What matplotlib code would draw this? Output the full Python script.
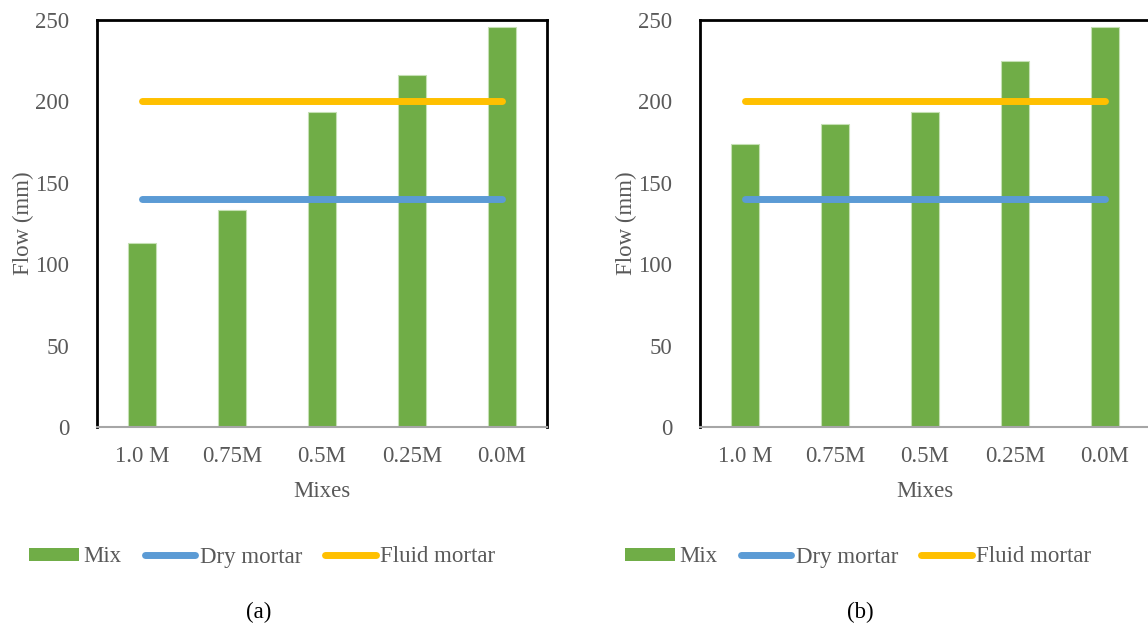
import numpy as np
import matplotlib
matplotlib.use("Agg")
import matplotlib.pyplot as plt
from matplotlib.lines import Line2D
from matplotlib.patches import Patch

plt.rcParams["font.family"] = ["Liberation Serif", "DejaVu Serif"]

# Data
mixes = ["1.0 M", "0.75M", "0.5M", "0.25M", "0.0M"]
flow_a = [113, 133.5, 193.5, 216, 246]
flow_b = [174, 186, 193.5, 225, 246]
dry_mortar = 140
fluid_mortar = 200
panel_labels = ["(a)", "(b)"]

green = "#70AD47"
blue = "#5B9BD5"
yellow = "#FFC000"
gray_text = "#595959"
fs = 16.5

W, H = 1148, 628
fig = plt.figure(figsize=(W / 100, H / 100), dpi=100)

panels = [(97, flow_a, 262, 259), (700, flow_b, 858, 860)]

for i, (left_px, flows, legend_x, label_x) in enumerate(panels):
    ax = fig.add_axes([left_px / W, (H - 427) / H, 450 / W, 407 / H])
    x = np.arange(len(mixes))
    ax.bar(x, flows, width=0.31, color=green, edgecolor="#c5e0b4", linewidth=0.8, zorder=2)
    ax.plot([x[0], x[-1]], [dry_mortar, dry_mortar], color=blue, lw=5,
            solid_capstyle="round", zorder=3)
    ax.plot([x[0], x[-1]], [fluid_mortar, fluid_mortar], color=yellow, lw=5,
            solid_capstyle="round", zorder=3)

    ax.set_xlim(-0.5, len(mixes) - 0.5)
    ax.set_ylim(0, 250)
    ax.set_yticks([0, 50, 100, 150, 200, 250])
    ax.set_xticks(x)
    ax.set_xticklabels(mixes)
    ax.tick_params(axis="both", length=0, labelsize=fs, labelcolor=gray_text)
    ax.tick_params(axis="y", pad=20)
    ax.tick_params(axis="x", pad=14)

    for side in ["left", "top", "right"]:
        ax.spines[side].set_color("black")
        ax.spines[side].set_linewidth(2)
    ax.spines["bottom"].set_color("#a6a6a6")
    ax.spines["bottom"].set_linewidth(1.5)

    ax.set_xlabel("Mixes", fontsize=fs, color=gray_text, labelpad=10)
    ax.set_ylabel("Flow (mm)", fontsize=fs, color=gray_text, labelpad=1)

    handles = [
        Patch(facecolor=green, edgecolor="none"),
        Line2D([0], [0], color=blue, lw=5, solid_capstyle="round"),
        Line2D([0], [0], color=yellow, lw=5, solid_capstyle="round"),
    ]
    leg = fig.legend(handles, ["Mix", "Dry mortar", "Fluid mortar"], ncol=3,
                     loc="center", bbox_to_anchor=(legend_x / W, 1 - 557 / H),
                     frameon=False, fontsize=fs, handlelength=2.2,
                     handletextpad=0.2, columnspacing=1.0, handleheight=0.5)
    for t in leg.get_texts():
        t.set_color(gray_text)

    fig.text(label_x / W, 1 - 612 / H, panel_labels[i], fontsize=fs,
             ha="center", va="center", color="black")

fig.savefig("out.png", dpi=100)
